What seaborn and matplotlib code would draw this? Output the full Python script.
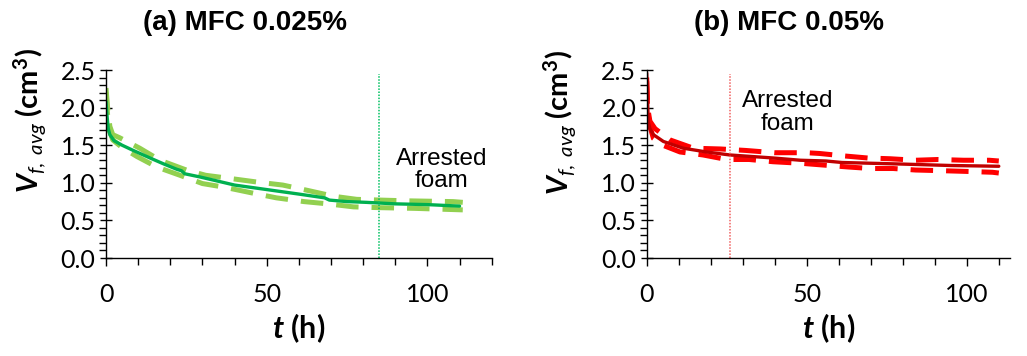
import matplotlib
matplotlib.use("Agg")
import matplotlib.pyplot as plt
import seaborn as sns
import numpy as np
import pandas as pd
from matplotlib.ticker import MultipleLocator

sns.set_theme(style="ticks")
plt.rcParams['font.family'] = ['Lato', 'DejaVu Sans']
plt.rcParams['mathtext.fontset'] = 'custom'
plt.rcParams['mathtext.bfit'] = 'Lato:italic:bold'
plt.rcParams['mathtext.it'] = 'Lato:italic'
plt.rcParams['mathtext.rm'] = 'Lato'
plt.rcParams['mathtext.bf'] = 'Lato:bold'
plt.rcParams['text.color'] = 'black'
plt.rcParams['axes.labelcolor'] = 'black'

titles = ["(a) MFC 0.025%", "(b) MFC 0.05%"]

# Panel (a)
t_a_mean = [0, 0.3, 0.7, 1.2, 2.5, 5, 8.5, 13.7, 18, 22, 23.5, 24.5, 29, 35, 40, 50, 60, 68, 69.5, 75, 81, 90, 100, 110]
v_a_mean = [2.08, 1.9, 1.72, 1.64, 1.56, 1.50, 1.43, 1.33, 1.25, 1.18, 1.16, 1.12, 1.08, 1.02, 0.97, 0.91, 0.85, 0.80, 0.77, 0.75, 0.74, 0.72, 0.71, 0.69]
t_a_up = [0, 0.5, 1.2, 2.1, 4.2, 10.5, 16.8, 25, 31, 40, 47, 55, 62.6, 71, 78, 85.5, 94, 108, 111]
v_a_up = [2.26, 2.0, 1.75, 1.64, 1.60, 1.46, 1.30, 1.17, 1.10, 1.05, 1.01, 0.97, 0.90, 0.82, 0.78, 0.77, 0.76, 0.75, 0.74]
t_a_lo = [0, 0.5, 1.2, 2.1, 5, 9.6, 15.8, 23, 30, 37, 46, 53, 61.6, 69, 77, 84.5, 96, 111]
v_a_lo = [2.2, 1.9, 1.68, 1.57, 1.47, 1.35, 1.21, 1.10, 0.99, 0.94, 0.86, 0.80, 0.75, 0.72, 0.68, 0.67, 0.66, 0.64]

# Panel (b)
t_b_mean = [0, 0.2, 0.5, 1, 2.1, 5.2, 11.4, 18.7, 26, 39.5, 48, 56, 61, 79, 95, 110]
v_b_mean = [2.46, 2.2, 1.81, 1.72, 1.64, 1.55, 1.46, 1.41, 1.37, 1.33, 1.30, 1.29, 1.27, 1.25, 1.23, 1.22]
t_b_up = [0, 0.3, 1, 2.6, 7.3, 14.6, 23, 31, 40, 50, 54, 61, 69, 76, 84, 91, 99, 107, 110]
v_b_up = [2.4, 2.0, 1.82, 1.72, 1.57, 1.46, 1.45, 1.43, 1.40, 1.40, 1.39, 1.36, 1.33, 1.32, 1.30, 1.31, 1.30, 1.30, 1.29]
t_b_lo = [0, 0.3, 1, 2.1, 5, 10.4, 17.6, 25, 32, 39.5, 48, 63, 70, 77, 84, 93, 101, 108, 110]
v_b_lo = [2.35, 1.95, 1.75, 1.59, 1.50, 1.41, 1.37, 1.31, 1.31, 1.28, 1.26, 1.21, 1.19, 1.19, 1.17, 1.16, 1.15, 1.14, 1.13]

arrest_t = [85, 26]
annot_xy = [(104.5, 1.17), (44, 1.93)]
xmax = [120, 113.5]

panels = [
    (t_a_mean, v_a_mean, t_a_up, v_a_up, t_a_lo, v_a_lo, "#00B050", "#92D050", "#00C060"),
    (t_b_mean, v_b_mean, t_b_up, v_b_up, t_b_lo, v_b_lo, "#C00000", "#FF0000", "#F06060"),
]

fig = plt.figure(figsize=(10.27, 3.56), dpi=100)
ax_rects = [
    [106/1027, 1-258/356, (491.7-106)/1027, (258-70)/356],
    [646.7/1027, 1-258/356, (1010-646.7)/1027, (258-70)/356],
]
title_x = [245/1027, 789/1027]
ylabel_pos = [(-0.150, 0.73), (-0.190, 0.72)]

for i, (tm, vm, tu, vu, tl, vl, c_main, c_band, c_v) in enumerate(panels):
    ax = fig.add_axes(ax_rects[i])
    dash = dict(color=c_band, lw=3.6, linestyle=(0, (4.5, 2.6)), dash_capstyle='butt')
    sns.lineplot(x=tu, y=vu, ax=ax, sort=False, **dash)
    sns.lineplot(x=tl, y=vl, ax=ax, sort=False, **dash)
    sns.lineplot(x=tm, y=vm, ax=ax, sort=False, color=c_main, lw=2.4)
    ax.plot([arrest_t[i], arrest_t[i]], [0, 2.45], color=c_v, lw=1.1, linestyle=(0, (1, 1)))
    ax.text(annot_xy[i][0], annot_xy[i][1], "Arrested\nfoam", ha='center', va='center',
            fontsize=17.5, family=['Liberation Sans'], linespacing=1.05, color='black')
    ax.set_xlim(0, xmax[i])
    ax.set_ylim(0, 2.5)
    ax.xaxis.set_major_locator(MultipleLocator(50))
    ax.xaxis.set_minor_locator(MultipleLocator(10))
    ax.yaxis.set_major_locator(MultipleLocator(0.5))
    ax.yaxis.set_minor_locator(MultipleLocator(0.1))
    ax.yaxis.set_major_formatter(matplotlib.ticker.FormatStrFormatter('%.1f'))
    for s in ['top', 'right']:
        ax.spines[s].set_visible(False)
    for s in ['left', 'bottom']:
        ax.spines[s].set_color('black')
        ax.spines[s].set_linewidth(1.0)
    ax.tick_params(axis='both', which='both', bottom=True, left=True, top=False, right=False)
    ax.tick_params(axis='y', which='major', direction='inout', length=9, width=1.0,
                   labelsize=18, colors='black', pad=3)
    ax.tick_params(axis='x', which='major', direction='out', length=6, width=1.0,
                   labelsize=18, colors='black', pad=12)
    ax.tick_params(axis='both', which='minor', direction='out', length=5, width=1.0, colors='black')
    ax.set_xlabel(r'$\mathbfit{t}$ (h)', fontsize=22, fontweight='bold', labelpad=4)
    ax.set_ylabel(r'$\mathbfit{V}_{\mathit{f,\ avg}}$ (cm$^{\mathbf{3}}$)', fontsize=21,
                  fontweight='bold')
    ax.yaxis.set_label_coords(*ylabel_pos[i])
    fig.text(title_x[i], 1-23/356, titles[i], ha='center', va='center',
             fontsize=20, fontweight='bold', family=['Liberation Sans'], color='black')

fig.savefig("out.png", dpi=100)
